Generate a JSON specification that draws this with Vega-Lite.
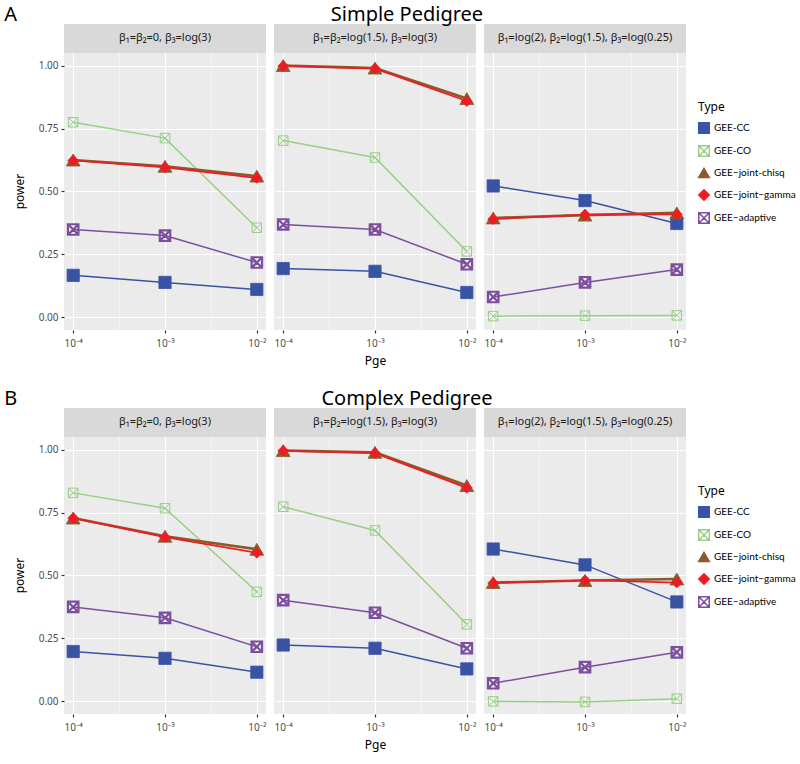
{
  "$schema": "https://vega.github.io/schema/vega-lite/v6.json",
  "padding": {"left": 4, "top": 5, "right": 5, "bottom": 3},
  "datasets": {
    "d": [
      {"r":"A","p":1,"Type":"GEE-CC","Pge":0.0001,"power":0.167},{"r":"A","p":1,"Type":"GEE-CC","Pge":0.001,"power":0.139},{"r":"A","p":1,"Type":"GEE-CC","Pge":0.01,"power":0.111},
      {"r":"A","p":1,"Type":"GEE-CO","Pge":0.0001,"power":0.775},{"r":"A","p":1,"Type":"GEE-CO","Pge":0.001,"power":0.712},{"r":"A","p":1,"Type":"GEE-CO","Pge":0.01,"power":0.356},
      {"r":"A","p":1,"Type":"GEE−joint-chisq","Pge":0.0001,"power":0.625},{"r":"A","p":1,"Type":"GEE−joint-chisq","Pge":0.001,"power":0.600},{"r":"A","p":1,"Type":"GEE−joint-chisq","Pge":0.01,"power":0.561},
      {"r":"A","p":1,"Type":"GEE−joint−gamma","Pge":0.0001,"power":0.623},{"r":"A","p":1,"Type":"GEE−joint−gamma","Pge":0.001,"power":0.596},{"r":"A","p":1,"Type":"GEE−joint−gamma","Pge":0.01,"power":0.554},
      {"r":"A","p":1,"Type":"GEE−adaptive","Pge":0.0001,"power":0.349},{"r":"A","p":1,"Type":"GEE−adaptive","Pge":0.001,"power":0.325},{"r":"A","p":1,"Type":"GEE−adaptive","Pge":0.01,"power":0.218},
      {"r":"A","p":2,"Type":"GEE-CC","Pge":0.0001,"power":0.194},{"r":"A","p":2,"Type":"GEE-CC","Pge":0.001,"power":0.183},{"r":"A","p":2,"Type":"GEE-CC","Pge":0.01,"power":0.099},
      {"r":"A","p":2,"Type":"GEE-CO","Pge":0.0001,"power":0.702},{"r":"A","p":2,"Type":"GEE-CO","Pge":0.001,"power":0.635},{"r":"A","p":2,"Type":"GEE-CO","Pge":0.01,"power":0.262},
      {"r":"A","p":2,"Type":"GEE−joint-chisq","Pge":0.0001,"power":1.0},{"r":"A","p":2,"Type":"GEE−joint-chisq","Pge":0.001,"power":0.99},{"r":"A","p":2,"Type":"GEE−joint-chisq","Pge":0.01,"power":0.869},
      {"r":"A","p":2,"Type":"GEE−joint−gamma","Pge":0.0001,"power":0.998},{"r":"A","p":2,"Type":"GEE−joint−gamma","Pge":0.001,"power":0.988},{"r":"A","p":2,"Type":"GEE−joint−gamma","Pge":0.01,"power":0.859},
      {"r":"A","p":2,"Type":"GEE−adaptive","Pge":0.0001,"power":0.369},{"r":"A","p":2,"Type":"GEE−adaptive","Pge":0.001,"power":0.349},{"r":"A","p":2,"Type":"GEE−adaptive","Pge":0.01,"power":0.211},
      {"r":"A","p":3,"Type":"GEE-CC","Pge":0.0001,"power":0.522},{"r":"A","p":3,"Type":"GEE-CC","Pge":0.001,"power":0.464},{"r":"A","p":3,"Type":"GEE-CC","Pge":0.01,"power":0.373},
      {"r":"A","p":3,"Type":"GEE-CO","Pge":0.0001,"power":0.005},{"r":"A","p":3,"Type":"GEE-CO","Pge":0.001,"power":0.007},{"r":"A","p":3,"Type":"GEE-CO","Pge":0.01,"power":0.008},
      {"r":"A","p":3,"Type":"GEE−joint-chisq","Pge":0.0001,"power":0.395},{"r":"A","p":3,"Type":"GEE−joint-chisq","Pge":0.001,"power":0.406},{"r":"A","p":3,"Type":"GEE−joint-chisq","Pge":0.01,"power":0.415},
      {"r":"A","p":3,"Type":"GEE−joint−gamma","Pge":0.0001,"power":0.390},{"r":"A","p":3,"Type":"GEE−joint−gamma","Pge":0.001,"power":0.408},{"r":"A","p":3,"Type":"GEE−joint−gamma","Pge":0.01,"power":0.409},
      {"r":"A","p":3,"Type":"GEE−adaptive","Pge":0.0001,"power":0.081},{"r":"A","p":3,"Type":"GEE−adaptive","Pge":0.001,"power":0.139},{"r":"A","p":3,"Type":"GEE−adaptive","Pge":0.01,"power":0.190},
      {"r":"B","p":1,"Type":"GEE-CC","Pge":0.0001,"power":0.198},{"r":"B","p":1,"Type":"GEE-CC","Pge":0.001,"power":0.171},{"r":"B","p":1,"Type":"GEE-CC","Pge":0.01,"power":0.116},
      {"r":"B","p":1,"Type":"GEE-CO","Pge":0.0001,"power":0.828},{"r":"B","p":1,"Type":"GEE-CO","Pge":0.001,"power":0.767},{"r":"B","p":1,"Type":"GEE-CO","Pge":0.01,"power":0.435},
      {"r":"B","p":1,"Type":"GEE−joint-chisq","Pge":0.0001,"power":0.728},{"r":"B","p":1,"Type":"GEE−joint-chisq","Pge":0.001,"power":0.656},{"r":"B","p":1,"Type":"GEE−joint-chisq","Pge":0.01,"power":0.604},
      {"r":"B","p":1,"Type":"GEE−joint−gamma","Pge":0.0001,"power":0.728},{"r":"B","p":1,"Type":"GEE−joint−gamma","Pge":0.001,"power":0.652},{"r":"B","p":1,"Type":"GEE−joint−gamma","Pge":0.01,"power":0.590},
      {"r":"B","p":1,"Type":"GEE−adaptive","Pge":0.0001,"power":0.375},{"r":"B","p":1,"Type":"GEE−adaptive","Pge":0.001,"power":0.332},{"r":"B","p":1,"Type":"GEE−adaptive","Pge":0.01,"power":0.217},
      {"r":"B","p":2,"Type":"GEE-CC","Pge":0.0001,"power":0.224},{"r":"B","p":2,"Type":"GEE-CC","Pge":0.001,"power":0.211},{"r":"B","p":2,"Type":"GEE-CC","Pge":0.01,"power":0.129},
      {"r":"B","p":2,"Type":"GEE-CO","Pge":0.0001,"power":0.773},{"r":"B","p":2,"Type":"GEE-CO","Pge":0.001,"power":0.679},{"r":"B","p":2,"Type":"GEE-CO","Pge":0.01,"power":0.306},
      {"r":"B","p":2,"Type":"GEE−joint-chisq","Pge":0.0001,"power":0.996},{"r":"B","p":2,"Type":"GEE−joint-chisq","Pge":0.001,"power":0.989},{"r":"B","p":2,"Type":"GEE−joint-chisq","Pge":0.01,"power":0.857},
      {"r":"B","p":2,"Type":"GEE−joint−gamma","Pge":0.0001,"power":0.995},{"r":"B","p":2,"Type":"GEE−joint−gamma","Pge":0.001,"power":0.986},{"r":"B","p":2,"Type":"GEE−joint−gamma","Pge":0.01,"power":0.848},
      {"r":"B","p":2,"Type":"GEE−adaptive","Pge":0.0001,"power":0.402},{"r":"B","p":2,"Type":"GEE−adaptive","Pge":0.001,"power":0.352},{"r":"B","p":2,"Type":"GEE−adaptive","Pge":0.01,"power":0.211},
      {"r":"B","p":3,"Type":"GEE-CC","Pge":0.0001,"power":0.605},{"r":"B","p":3,"Type":"GEE-CC","Pge":0.001,"power":0.542},{"r":"B","p":3,"Type":"GEE-CC","Pge":0.01,"power":0.395},
      {"r":"B","p":3,"Type":"GEE-CO","Pge":0.0001,"power":0.0},{"r":"B","p":3,"Type":"GEE-CO","Pge":0.001,"power":-0.002},{"r":"B","p":3,"Type":"GEE-CO","Pge":0.01,"power":0.011},
      {"r":"B","p":3,"Type":"GEE−joint-chisq","Pge":0.0001,"power":0.472},{"r":"B","p":3,"Type":"GEE−joint-chisq","Pge":0.001,"power":0.480},{"r":"B","p":3,"Type":"GEE−joint-chisq","Pge":0.01,"power":0.486},
      {"r":"B","p":3,"Type":"GEE−joint−gamma","Pge":0.0001,"power":0.470},{"r":"B","p":3,"Type":"GEE−joint−gamma","Pge":0.001,"power":0.481},{"r":"B","p":3,"Type":"GEE−joint−gamma","Pge":0.01,"power":0.472},
      {"r":"B","p":3,"Type":"GEE−adaptive","Pge":0.0001,"power":0.072},{"r":"B","p":3,"Type":"GEE−adaptive","Pge":0.001,"power":0.136},{"r":"B","p":3,"Type":"GEE−adaptive","Pge":0.01,"power":0.195}
    ]
  },
  "vconcat": [
    {
      "hconcat": [
        {
          "width": 202, "height": 306, "view": {"fill": "#ebebeb"},
          "layer": [
            {"data": {"name": "d"}, "transform": [{"filter": "datum.r == 'A' && datum.p == 1"}],
             "encoding": {
               "x": {"field": "Pge", "type": "quantitative", "scale": {"type": "log", "domain": [0.0000794, 0.01259], "nice": false}, "axis": {"values": [0.0001, 0.000316228, 0.001, 0.00316228, 0.01], "title": null, "labelExpr": "datum.value == 0.0001 ? '10⁻⁴' : datum.value == 0.001 ? '10⁻³' : datum.value == 0.01 ? '10⁻²' : ''", "gridWidth": {"condition": {"test": "datum.value == 0.0001 || datum.value == 0.001 || datum.value == 0.01", "value": 1.1}, "value": 0.5}, "tickOpacity": {"condition": {"test": "datum.value == 0.0001 || datum.value == 0.001 || datum.value == 0.01", "value": 1}, "value": 0}}},
               "y": {"field": "power", "type": "quantitative", "scale": {"domain": [-0.05, 1.165], "nice": false, "zero": false}, "axis": {"values": [0, 0.125, 0.25, 0.375, 0.5, 0.625, 0.75, 0.875, 1], "title": "power", "titleY": 167, "titlePadding": 12, "labelExpr": "datum.value * 4 == round(datum.value * 4) ? format(datum.value, '.2f') : ''", "gridWidth": {"condition": {"test": "datum.value * 4 == round(datum.value * 4)", "value": 1.1}, "value": 0.5}, "tickOpacity": {"condition": {"test": "datum.value * 4 == round(datum.value * 4)", "value": 1}, "value": 0}}}
             },
             "layer": [
              {"transform": [{"filter": "datum.Type == 'GEE-CC' || datum.Type == 'GEE-CO' || datum.Type == 'GEE−adaptive'"}], "mark": {"type": "line", "strokeWidth": 1.5}, "encoding": {"stroke": {"field": "Type", "type": "nominal", "scale": {"domain": ["GEE-CC", "GEE-CO", "GEE−joint-chisq", "GEE−joint−gamma", "GEE−adaptive"], "range": ["#3953a4", "#98cf86", "#8b5a2b", "#ed1c24", "#7b4f9e"]}, "legend": {"title": "Type", "orient": "none", "legendX": 634, "legendY": 78}}}},
              {"transform": [{"filter": "datum.Type == 'GEE−joint-chisq'"}], "mark": {"type": "line", "strokeWidth": 2.6}, "encoding": {"stroke": {"field": "Type", "type": "nominal"}}},
              {"transform": [{"filter": "datum.Type == 'GEE−joint−gamma'"}], "mark": {"type": "line", "strokeWidth": 1.7}, "encoding": {"stroke": {"field": "Type", "type": "nominal"}}},
              {"transform": [{"filter": "datum.Type == 'GEE-CC'"}], "mark": {"type": "point", "opacity": 1, "strokeWidth": 0.8, "size": 150}, "encoding": {"stroke": {"field": "Type", "type": "nominal"}, "fill": {"field": "Type", "type": "nominal", "scale": {"domain": ["GEE-CC", "GEE-CO", "GEE−joint-chisq", "GEE−joint−gamma", "GEE−adaptive"], "range": ["#3953a4", "transparent", "#8b5a2b", "#ed1c24", "transparent"]}, "legend": {"title": "Type", "orient": "none", "legendX": 634, "legendY": 78}}, "shape": {"field": "Type", "type": "nominal", "scale": {"domain": ["GEE-CC", "GEE-CO", "GEE−joint-chisq", "GEE−joint−gamma", "GEE−adaptive"], "range": ["square", "M-1,-1L1,-1L1,1L-1,1Z M-1,-1L1,1 M1,-1L-1,1", "triangle-up", "diamond", "M-1,-1L1,-1L1,1L-1,1Z M-1,-1L1,1 M1,-1L-1,1"]}, "legend": {"title": "Type", "orient": "none", "legendX": 634, "legendY": 78}}}},
              {"transform": [{"filter": "datum.Type == 'GEE−joint-chisq'"}], "mark": {"type": "point", "opacity": 1, "strokeWidth": 0.8, "size": 190}, "encoding": {"stroke": {"field": "Type", "type": "nominal"}, "fill": {"field": "Type", "type": "nominal"}, "shape": {"field": "Type", "type": "nominal"}}},
              {"transform": [{"filter": "datum.Type == 'GEE−joint−gamma'"}], "mark": {"type": "point", "opacity": 1, "strokeWidth": 0.8, "size": 115}, "encoding": {"stroke": {"field": "Type", "type": "nominal"}, "fill": {"field": "Type", "type": "nominal"}, "shape": {"field": "Type", "type": "nominal"}}},
              {"transform": [{"filter": "datum.Type == 'GEE-CO'"}], "mark": {"type": "point", "opacity": 1, "strokeWidth": 1, "size": 90}, "encoding": {"stroke": {"field": "Type", "type": "nominal"}, "fill": {"field": "Type", "type": "nominal"}, "shape": {"field": "Type", "type": "nominal"}}},
              {"transform": [{"filter": "datum.Type == 'GEE−adaptive'"}], "mark": {"type": "point", "opacity": 1, "strokeWidth": 2.2, "size": 110}, "encoding": {"stroke": {"field": "Type", "type": "nominal"}, "fill": {"field": "Type", "type": "nominal"}, "shape": {"field": "Type", "type": "nominal"}}}
            ]},
            {"data": {"values": [{"s": "β₁=β₂=0, β₃=log(3)"}]}, "layer": [
              {"mark": {"type": "rect", "fill": "#d9d9d9"}, "encoding": {"x": {"datum": 0.0000794, "type": "quantitative"}, "x2": {"datum": 0.01259}, "y": {"datum": 1.05, "type": "quantitative"}, "y2": {"datum": 1.165}}},
              {"mark": {"type": "text", "fontSize": 11, "color": "#1a1a1a", "baseline": "middle"}, "encoding": {"x": {"datum": 0.001, "type": "quantitative"}, "y": {"datum": 1.1075, "type": "quantitative"}, "text": {"field": "s"}}}
            ]},
            {"data": {"values": [{"t": "A"}]}, "mark": {"type": "text", "align": "left", "baseline": "middle", "fontSize": 20, "color": "#000000"}, "encoding": {"x": {"datum": 0.0000177, "type": "quantitative"}, "y": {"datum": 1.20, "type": "quantitative"}, "text": {"field": "t"}}}
          ]
        },
        {
          "width": 202, "height": 306, "view": {"fill": "#ebebeb"},
          "layer": [
            {"data": {"name": "d"}, "transform": [{"filter": "datum.r == 'A' && datum.p == 2"}],
             "encoding": {
               "x": {"field": "Pge", "type": "quantitative", "scale": {"type": "log", "domain": [0.0000794, 0.01259], "nice": false}, "axis": {"values": [0.0001, 0.000316228, 0.001, 0.00316228, 0.01], "title": "Pge", "labelExpr": "datum.value == 0.0001 ? '10⁻⁴' : datum.value == 0.001 ? '10⁻³' : datum.value == 0.01 ? '10⁻²' : ''", "gridWidth": {"condition": {"test": "datum.value == 0.0001 || datum.value == 0.001 || datum.value == 0.01", "value": 1.1}, "value": 0.5}, "tickOpacity": {"condition": {"test": "datum.value == 0.0001 || datum.value == 0.001 || datum.value == 0.01", "value": 1}, "value": 0}}},
               "y": {"field": "power", "type": "quantitative", "scale": {"domain": [-0.05, 1.165], "nice": false, "zero": false}, "axis": {"values": [0, 0.125, 0.25, 0.375, 0.5, 0.625, 0.75, 0.875, 1], "title": null, "labels": false, "ticks": false, "gridWidth": {"condition": {"test": "datum.value * 4 == round(datum.value * 4)", "value": 1.1}, "value": 0.5}}}
             },
             "layer": [
              {"transform": [{"filter": "datum.Type == 'GEE-CC' || datum.Type == 'GEE-CO' || datum.Type == 'GEE−adaptive'"}], "mark": {"type": "line", "strokeWidth": 1.5}, "encoding": {"stroke": {"field": "Type", "type": "nominal"}}},
              {"transform": [{"filter": "datum.Type == 'GEE−joint-chisq'"}], "mark": {"type": "line", "strokeWidth": 2.6}, "encoding": {"stroke": {"field": "Type", "type": "nominal"}}},
              {"transform": [{"filter": "datum.Type == 'GEE−joint−gamma'"}], "mark": {"type": "line", "strokeWidth": 1.7}, "encoding": {"stroke": {"field": "Type", "type": "nominal"}}},
              {"transform": [{"filter": "datum.Type == 'GEE-CC'"}], "mark": {"type": "point", "opacity": 1, "strokeWidth": 0.8, "size": 150}, "encoding": {"stroke": {"field": "Type", "type": "nominal"}, "fill": {"field": "Type", "type": "nominal"}, "shape": {"field": "Type", "type": "nominal"}}},
              {"transform": [{"filter": "datum.Type == 'GEE−joint-chisq'"}], "mark": {"type": "point", "opacity": 1, "strokeWidth": 0.8, "size": 190}, "encoding": {"stroke": {"field": "Type", "type": "nominal"}, "fill": {"field": "Type", "type": "nominal"}, "shape": {"field": "Type", "type": "nominal"}}},
              {"transform": [{"filter": "datum.Type == 'GEE−joint−gamma'"}], "mark": {"type": "point", "opacity": 1, "strokeWidth": 0.8, "size": 115}, "encoding": {"stroke": {"field": "Type", "type": "nominal"}, "fill": {"field": "Type", "type": "nominal"}, "shape": {"field": "Type", "type": "nominal"}}},
              {"transform": [{"filter": "datum.Type == 'GEE-CO'"}], "mark": {"type": "point", "opacity": 1, "strokeWidth": 1, "size": 90}, "encoding": {"stroke": {"field": "Type", "type": "nominal"}, "fill": {"field": "Type", "type": "nominal"}, "shape": {"field": "Type", "type": "nominal"}}},
              {"transform": [{"filter": "datum.Type == 'GEE−adaptive'"}], "mark": {"type": "point", "opacity": 1, "strokeWidth": 2.2, "size": 110}, "encoding": {"stroke": {"field": "Type", "type": "nominal"}, "fill": {"field": "Type", "type": "nominal"}, "shape": {"field": "Type", "type": "nominal"}}}
            ]},
            {"data": {"values": [{"s": "β₁=β₂=log(1.5), β₃=log(3)"}]}, "layer": [
              {"mark": {"type": "rect", "fill": "#d9d9d9"}, "encoding": {"x": {"datum": 0.0000794, "type": "quantitative"}, "x2": {"datum": 0.01259}, "y": {"datum": 1.05, "type": "quantitative"}, "y2": {"datum": 1.165}}},
              {"mark": {"type": "text", "fontSize": 11, "color": "#1a1a1a", "baseline": "middle"}, "encoding": {"x": {"datum": 0.001, "type": "quantitative"}, "y": {"datum": 1.1075, "type": "quantitative"}, "text": {"field": "s"}}}
            ]},
            {"data": {"values": [{"t": "Simple Pedigree"}]}, "mark": {"type": "text", "align": "center", "baseline": "middle", "fontSize": 20, "color": "#000000"}, "encoding": {"x": {"datum": 0.00223, "type": "quantitative"}, "y": {"datum": 1.20, "type": "quantitative"}, "text": {"field": "t"}}}
          ]
        },
        {
          "width": 202, "height": 306, "view": {"fill": "#ebebeb"},
          "layer": [
            {"data": {"name": "d"}, "transform": [{"filter": "datum.r == 'A' && datum.p == 3"}],
             "encoding": {
               "x": {"field": "Pge", "type": "quantitative", "scale": {"type": "log", "domain": [0.0000794, 0.01259], "nice": false}, "axis": {"values": [0.0001, 0.000316228, 0.001, 0.00316228, 0.01], "title": null, "labelExpr": "datum.value == 0.0001 ? '10⁻⁴' : datum.value == 0.001 ? '10⁻³' : datum.value == 0.01 ? '10⁻²' : ''", "gridWidth": {"condition": {"test": "datum.value == 0.0001 || datum.value == 0.001 || datum.value == 0.01", "value": 1.1}, "value": 0.5}, "tickOpacity": {"condition": {"test": "datum.value == 0.0001 || datum.value == 0.001 || datum.value == 0.01", "value": 1}, "value": 0}}},
               "y": {"field": "power", "type": "quantitative", "scale": {"domain": [-0.05, 1.165], "nice": false, "zero": false}, "axis": {"values": [0, 0.125, 0.25, 0.375, 0.5, 0.625, 0.75, 0.875, 1], "title": null, "labels": false, "ticks": false, "gridWidth": {"condition": {"test": "datum.value * 4 == round(datum.value * 4)", "value": 1.1}, "value": 0.5}}}
             },
             "layer": [
              {"transform": [{"filter": "datum.Type == 'GEE-CC' || datum.Type == 'GEE-CO' || datum.Type == 'GEE−adaptive'"}], "mark": {"type": "line", "strokeWidth": 1.5}, "encoding": {"stroke": {"field": "Type", "type": "nominal"}}},
              {"transform": [{"filter": "datum.Type == 'GEE−joint-chisq'"}], "mark": {"type": "line", "strokeWidth": 2.6}, "encoding": {"stroke": {"field": "Type", "type": "nominal"}}},
              {"transform": [{"filter": "datum.Type == 'GEE−joint−gamma'"}], "mark": {"type": "line", "strokeWidth": 1.7}, "encoding": {"stroke": {"field": "Type", "type": "nominal"}}},
              {"transform": [{"filter": "datum.Type == 'GEE-CC'"}], "mark": {"type": "point", "opacity": 1, "strokeWidth": 0.8, "size": 150}, "encoding": {"stroke": {"field": "Type", "type": "nominal"}, "fill": {"field": "Type", "type": "nominal"}, "shape": {"field": "Type", "type": "nominal"}}},
              {"transform": [{"filter": "datum.Type == 'GEE−joint-chisq'"}], "mark": {"type": "point", "opacity": 1, "strokeWidth": 0.8, "size": 190}, "encoding": {"stroke": {"field": "Type", "type": "nominal"}, "fill": {"field": "Type", "type": "nominal"}, "shape": {"field": "Type", "type": "nominal"}}},
              {"transform": [{"filter": "datum.Type == 'GEE−joint−gamma'"}], "mark": {"type": "point", "opacity": 1, "strokeWidth": 0.8, "size": 115}, "encoding": {"stroke": {"field": "Type", "type": "nominal"}, "fill": {"field": "Type", "type": "nominal"}, "shape": {"field": "Type", "type": "nominal"}}},
              {"transform": [{"filter": "datum.Type == 'GEE-CO'"}], "mark": {"type": "point", "opacity": 1, "strokeWidth": 1, "size": 90}, "encoding": {"stroke": {"field": "Type", "type": "nominal"}, "fill": {"field": "Type", "type": "nominal"}, "shape": {"field": "Type", "type": "nominal"}}},
              {"transform": [{"filter": "datum.Type == 'GEE−adaptive'"}], "mark": {"type": "point", "opacity": 1, "strokeWidth": 2.2, "size": 110}, "encoding": {"stroke": {"field": "Type", "type": "nominal"}, "fill": {"field": "Type", "type": "nominal"}, "shape": {"field": "Type", "type": "nominal"}}}
            ]},
            {"data": {"values": [{"s": "β₁=log(2), β₂=log(1.5), β₃=log(0.25)"}]}, "layer": [
              {"mark": {"type": "rect", "fill": "#d9d9d9"}, "encoding": {"x": {"datum": 0.0000794, "type": "quantitative"}, "x2": {"datum": 0.01259}, "y": {"datum": 1.05, "type": "quantitative"}, "y2": {"datum": 1.165}}},
              {"mark": {"type": "text", "fontSize": 11, "color": "#1a1a1a", "baseline": "middle"}, "encoding": {"x": {"datum": 0.001, "type": "quantitative"}, "y": {"datum": 1.1075, "type": "quantitative"}, "text": {"field": "s"}}}
            ]}
          ]
        }
      ],
      "spacing": 8, "bounds": "flush"
    },
    {
      "hconcat": [
        {
          "width": 202, "height": 306, "view": {"fill": "#ebebeb"},
          "layer": [
            {"data": {"name": "d"}, "transform": [{"filter": "datum.r == 'B' && datum.p == 1"}],
             "encoding": {
               "x": {"field": "Pge", "type": "quantitative", "scale": {"type": "log", "domain": [0.0000794, 0.01259], "nice": false}, "axis": {"values": [0.0001, 0.000316228, 0.001, 0.00316228, 0.01], "title": null, "labelExpr": "datum.value == 0.0001 ? '10⁻⁴' : datum.value == 0.001 ? '10⁻³' : datum.value == 0.01 ? '10⁻²' : ''", "gridWidth": {"condition": {"test": "datum.value == 0.0001 || datum.value == 0.001 || datum.value == 0.01", "value": 1.1}, "value": 0.5}, "tickOpacity": {"condition": {"test": "datum.value == 0.0001 || datum.value == 0.001 || datum.value == 0.01", "value": 1}, "value": 0}}},
               "y": {"field": "power", "type": "quantitative", "scale": {"domain": [-0.05, 1.165], "nice": false, "zero": false}, "axis": {"values": [0, 0.125, 0.25, 0.375, 0.5, 0.625, 0.75, 0.875, 1], "title": "power", "titleY": 167, "titlePadding": 12, "labelExpr": "datum.value * 4 == round(datum.value * 4) ? format(datum.value, '.2f') : ''", "gridWidth": {"condition": {"test": "datum.value * 4 == round(datum.value * 4)", "value": 1.1}, "value": 0.5}, "tickOpacity": {"condition": {"test": "datum.value * 4 == round(datum.value * 4)", "value": 1}, "value": 0}}}
             },
             "layer": [
              {"transform": [{"filter": "datum.Type == 'GEE-CC' || datum.Type == 'GEE-CO' || datum.Type == 'GEE−adaptive'"}], "mark": {"type": "line", "strokeWidth": 1.5}, "encoding": {"stroke": {"field": "Type", "type": "nominal", "scale": {"domain": ["GEE-CC", "GEE-CO", "GEE−joint-chisq", "GEE−joint−gamma", "GEE−adaptive"], "range": ["#3953a4", "#98cf86", "#8b5a2b", "#ed1c24", "#7b4f9e"]}, "legend": {"title": "Type", "orient": "none", "legendX": 634, "legendY": 78}}}},
              {"transform": [{"filter": "datum.Type == 'GEE−joint-chisq'"}], "mark": {"type": "line", "strokeWidth": 2.6}, "encoding": {"stroke": {"field": "Type", "type": "nominal"}}},
              {"transform": [{"filter": "datum.Type == 'GEE−joint−gamma'"}], "mark": {"type": "line", "strokeWidth": 1.7}, "encoding": {"stroke": {"field": "Type", "type": "nominal"}}},
              {"transform": [{"filter": "datum.Type == 'GEE-CC'"}], "mark": {"type": "point", "opacity": 1, "strokeWidth": 0.8, "size": 150}, "encoding": {"stroke": {"field": "Type", "type": "nominal"}, "fill": {"field": "Type", "type": "nominal", "scale": {"domain": ["GEE-CC", "GEE-CO", "GEE−joint-chisq", "GEE−joint−gamma", "GEE−adaptive"], "range": ["#3953a4", "transparent", "#8b5a2b", "#ed1c24", "transparent"]}, "legend": {"title": "Type", "orient": "none", "legendX": 634, "legendY": 78}}, "shape": {"field": "Type", "type": "nominal", "scale": {"domain": ["GEE-CC", "GEE-CO", "GEE−joint-chisq", "GEE−joint−gamma", "GEE−adaptive"], "range": ["square", "M-1,-1L1,-1L1,1L-1,1Z M-1,-1L1,1 M1,-1L-1,1", "triangle-up", "diamond", "M-1,-1L1,-1L1,1L-1,1Z M-1,-1L1,1 M1,-1L-1,1"]}, "legend": {"title": "Type", "orient": "none", "legendX": 634, "legendY": 78}}}},
              {"transform": [{"filter": "datum.Type == 'GEE−joint-chisq'"}], "mark": {"type": "point", "opacity": 1, "strokeWidth": 0.8, "size": 190}, "encoding": {"stroke": {"field": "Type", "type": "nominal"}, "fill": {"field": "Type", "type": "nominal"}, "shape": {"field": "Type", "type": "nominal"}}},
              {"transform": [{"filter": "datum.Type == 'GEE−joint−gamma'"}], "mark": {"type": "point", "opacity": 1, "strokeWidth": 0.8, "size": 115}, "encoding": {"stroke": {"field": "Type", "type": "nominal"}, "fill": {"field": "Type", "type": "nominal"}, "shape": {"field": "Type", "type": "nominal"}}},
              {"transform": [{"filter": "datum.Type == 'GEE-CO'"}], "mark": {"type": "point", "opacity": 1, "strokeWidth": 1, "size": 90}, "encoding": {"stroke": {"field": "Type", "type": "nominal"}, "fill": {"field": "Type", "type": "nominal"}, "shape": {"field": "Type", "type": "nominal"}}},
              {"transform": [{"filter": "datum.Type == 'GEE−adaptive'"}], "mark": {"type": "point", "opacity": 1, "strokeWidth": 2.2, "size": 110}, "encoding": {"stroke": {"field": "Type", "type": "nominal"}, "fill": {"field": "Type", "type": "nominal"}, "shape": {"field": "Type", "type": "nominal"}}}
            ]},
            {"data": {"values": [{"s": "β₁=β₂=0, β₃=log(3)"}]}, "layer": [
              {"mark": {"type": "rect", "fill": "#d9d9d9"}, "encoding": {"x": {"datum": 0.0000794, "type": "quantitative"}, "x2": {"datum": 0.01259}, "y": {"datum": 1.05, "type": "quantitative"}, "y2": {"datum": 1.165}}},
              {"mark": {"type": "text", "fontSize": 11, "color": "#1a1a1a", "baseline": "middle"}, "encoding": {"x": {"datum": 0.001, "type": "quantitative"}, "y": {"datum": 1.1075, "type": "quantitative"}, "text": {"field": "s"}}}
            ]},
            {"data": {"values": [{"t": "B"}]}, "mark": {"type": "text", "align": "left", "baseline": "middle", "fontSize": 20, "color": "#000000"}, "encoding": {"x": {"datum": 0.0000177, "type": "quantitative"}, "y": {"datum": 1.20, "type": "quantitative"}, "text": {"field": "t"}}}
          ]
        },
        {
          "width": 202, "height": 306, "view": {"fill": "#ebebeb"},
          "layer": [
            {"data": {"name": "d"}, "transform": [{"filter": "datum.r == 'B' && datum.p == 2"}],
             "encoding": {
               "x": {"field": "Pge", "type": "quantitative", "scale": {"type": "log", "domain": [0.0000794, 0.01259], "nice": false}, "axis": {"values": [0.0001, 0.000316228, 0.001, 0.00316228, 0.01], "title": "Pge", "labelExpr": "datum.value == 0.0001 ? '10⁻⁴' : datum.value == 0.001 ? '10⁻³' : datum.value == 0.01 ? '10⁻²' : ''", "gridWidth": {"condition": {"test": "datum.value == 0.0001 || datum.value == 0.001 || datum.value == 0.01", "value": 1.1}, "value": 0.5}, "tickOpacity": {"condition": {"test": "datum.value == 0.0001 || datum.value == 0.001 || datum.value == 0.01", "value": 1}, "value": 0}}},
               "y": {"field": "power", "type": "quantitative", "scale": {"domain": [-0.05, 1.165], "nice": false, "zero": false}, "axis": {"values": [0, 0.125, 0.25, 0.375, 0.5, 0.625, 0.75, 0.875, 1], "title": null, "labels": false, "ticks": false, "gridWidth": {"condition": {"test": "datum.value * 4 == round(datum.value * 4)", "value": 1.1}, "value": 0.5}}}
             },
             "layer": [
              {"transform": [{"filter": "datum.Type == 'GEE-CC' || datum.Type == 'GEE-CO' || datum.Type == 'GEE−adaptive'"}], "mark": {"type": "line", "strokeWidth": 1.5}, "encoding": {"stroke": {"field": "Type", "type": "nominal"}}},
              {"transform": [{"filter": "datum.Type == 'GEE−joint-chisq'"}], "mark": {"type": "line", "strokeWidth": 2.6}, "encoding": {"stroke": {"field": "Type", "type": "nominal"}}},
              {"transform": [{"filter": "datum.Type == 'GEE−joint−gamma'"}], "mark": {"type": "line", "strokeWidth": 1.7}, "encoding": {"stroke": {"field": "Type", "type": "nominal"}}},
              {"transform": [{"filter": "datum.Type == 'GEE-CC'"}], "mark": {"type": "point", "opacity": 1, "strokeWidth": 0.8, "size": 150}, "encoding": {"stroke": {"field": "Type", "type": "nominal"}, "fill": {"field": "Type", "type": "nominal"}, "shape": {"field": "Type", "type": "nominal"}}},
              {"transform": [{"filter": "datum.Type == 'GEE−joint-chisq'"}], "mark": {"type": "point", "opacity": 1, "strokeWidth": 0.8, "size": 190}, "encoding": {"stroke": {"field": "Type", "type": "nominal"}, "fill": {"field": "Type", "type": "nominal"}, "shape": {"field": "Type", "type": "nominal"}}},
              {"transform": [{"filter": "datum.Type == 'GEE−joint−gamma'"}], "mark": {"type": "point", "opacity": 1, "strokeWidth": 0.8, "size": 115}, "encoding": {"stroke": {"field": "Type", "type": "nominal"}, "fill": {"field": "Type", "type": "nominal"}, "shape": {"field": "Type", "type": "nominal"}}},
              {"transform": [{"filter": "datum.Type == 'GEE-CO'"}], "mark": {"type": "point", "opacity": 1, "strokeWidth": 1, "size": 90}, "encoding": {"stroke": {"field": "Type", "type": "nominal"}, "fill": {"field": "Type", "type": "nominal"}, "shape": {"field": "Type", "type": "nominal"}}},
              {"transform": [{"filter": "datum.Type == 'GEE−adaptive'"}], "mark": {"type": "point", "opacity": 1, "strokeWidth": 2.2, "size": 110}, "encoding": {"stroke": {"field": "Type", "type": "nominal"}, "fill": {"field": "Type", "type": "nominal"}, "shape": {"field": "Type", "type": "nominal"}}}
            ]},
            {"data": {"values": [{"s": "β₁=β₂=log(1.5), β₃=log(3)"}]}, "layer": [
              {"mark": {"type": "rect", "fill": "#d9d9d9"}, "encoding": {"x": {"datum": 0.0000794, "type": "quantitative"}, "x2": {"datum": 0.01259}, "y": {"datum": 1.05, "type": "quantitative"}, "y2": {"datum": 1.165}}},
              {"mark": {"type": "text", "fontSize": 11, "color": "#1a1a1a", "baseline": "middle"}, "encoding": {"x": {"datum": 0.001, "type": "quantitative"}, "y": {"datum": 1.1075, "type": "quantitative"}, "text": {"field": "s"}}}
            ]},
            {"data": {"values": [{"t": "Complex Pedigree"}]}, "mark": {"type": "text", "align": "center", "baseline": "middle", "fontSize": 20, "color": "#000000"}, "encoding": {"x": {"datum": 0.00223, "type": "quantitative"}, "y": {"datum": 1.20, "type": "quantitative"}, "text": {"field": "t"}}}
          ]
        },
        {
          "width": 202, "height": 306, "view": {"fill": "#ebebeb"},
          "layer": [
            {"data": {"name": "d"}, "transform": [{"filter": "datum.r == 'B' && datum.p == 3"}],
             "encoding": {
               "x": {"field": "Pge", "type": "quantitative", "scale": {"type": "log", "domain": [0.0000794, 0.01259], "nice": false}, "axis": {"values": [0.0001, 0.000316228, 0.001, 0.00316228, 0.01], "title": null, "labelExpr": "datum.value == 0.0001 ? '10⁻⁴' : datum.value == 0.001 ? '10⁻³' : datum.value == 0.01 ? '10⁻²' : ''", "gridWidth": {"condition": {"test": "datum.value == 0.0001 || datum.value == 0.001 || datum.value == 0.01", "value": 1.1}, "value": 0.5}, "tickOpacity": {"condition": {"test": "datum.value == 0.0001 || datum.value == 0.001 || datum.value == 0.01", "value": 1}, "value": 0}}},
               "y": {"field": "power", "type": "quantitative", "scale": {"domain": [-0.05, 1.165], "nice": false, "zero": false}, "axis": {"values": [0, 0.125, 0.25, 0.375, 0.5, 0.625, 0.75, 0.875, 1], "title": null, "labels": false, "ticks": false, "gridWidth": {"condition": {"test": "datum.value * 4 == round(datum.value * 4)", "value": 1.1}, "value": 0.5}}}
             },
             "layer": [
              {"transform": [{"filter": "datum.Type == 'GEE-CC' || datum.Type == 'GEE-CO' || datum.Type == 'GEE−adaptive'"}], "mark": {"type": "line", "strokeWidth": 1.5}, "encoding": {"stroke": {"field": "Type", "type": "nominal"}}},
              {"transform": [{"filter": "datum.Type == 'GEE−joint-chisq'"}], "mark": {"type": "line", "strokeWidth": 2.6}, "encoding": {"stroke": {"field": "Type", "type": "nominal"}}},
              {"transform": [{"filter": "datum.Type == 'GEE−joint−gamma'"}], "mark": {"type": "line", "strokeWidth": 1.7}, "encoding": {"stroke": {"field": "Type", "type": "nominal"}}},
              {"transform": [{"filter": "datum.Type == 'GEE-CC'"}], "mark": {"type": "point", "opacity": 1, "strokeWidth": 0.8, "size": 150}, "encoding": {"stroke": {"field": "Type", "type": "nominal"}, "fill": {"field": "Type", "type": "nominal"}, "shape": {"field": "Type", "type": "nominal"}}},
              {"transform": [{"filter": "datum.Type == 'GEE−joint-chisq'"}], "mark": {"type": "point", "opacity": 1, "strokeWidth": 0.8, "size": 190}, "encoding": {"stroke": {"field": "Type", "type": "nominal"}, "fill": {"field": "Type", "type": "nominal"}, "shape": {"field": "Type", "type": "nominal"}}},
              {"transform": [{"filter": "datum.Type == 'GEE−joint−gamma'"}], "mark": {"type": "point", "opacity": 1, "strokeWidth": 0.8, "size": 115}, "encoding": {"stroke": {"field": "Type", "type": "nominal"}, "fill": {"field": "Type", "type": "nominal"}, "shape": {"field": "Type", "type": "nominal"}}},
              {"transform": [{"filter": "datum.Type == 'GEE-CO'"}], "mark": {"type": "point", "opacity": 1, "strokeWidth": 1, "size": 90}, "encoding": {"stroke": {"field": "Type", "type": "nominal"}, "fill": {"field": "Type", "type": "nominal"}, "shape": {"field": "Type", "type": "nominal"}}},
              {"transform": [{"filter": "datum.Type == 'GEE−adaptive'"}], "mark": {"type": "point", "opacity": 1, "strokeWidth": 2.2, "size": 110}, "encoding": {"stroke": {"field": "Type", "type": "nominal"}, "fill": {"field": "Type", "type": "nominal"}, "shape": {"field": "Type", "type": "nominal"}}}
            ]},
            {"data": {"values": [{"s": "β₁=log(2), β₂=log(1.5), β₃=log(0.25)"}]}, "layer": [
              {"mark": {"type": "rect", "fill": "#d9d9d9"}, "encoding": {"x": {"datum": 0.0000794, "type": "quantitative"}, "x2": {"datum": 0.01259}, "y": {"datum": 1.05, "type": "quantitative"}, "y2": {"datum": 1.165}}},
              {"mark": {"type": "text", "fontSize": 11, "color": "#1a1a1a", "baseline": "middle"}, "encoding": {"x": {"datum": 0.001, "type": "quantitative"}, "y": {"datum": 1.1075, "type": "quantitative"}, "text": {"field": "s"}}}
            ]}
          ]
        }
      ],
      "spacing": 8, "bounds": "flush"
    }
  ],
  "spacing": 23,
  "resolve": {"scale": {"stroke": "independent", "fill": "independent", "shape": "independent"}},
  "config": {
    "font": "Noto Sans",
    "view": {"stroke": null},
    "axis": {"domain": false, "gridColor": "#ffffff", "tickColor": "#333333", "tickSize": 3, "tickWidth": 1.2, "labelColor": "#4d4d4d", "labelFontSize": 10, "titleFontSize": 12, "titleFontWeight": "normal", "titleColor": "#000000", "labelPadding": 3, "labelOverlap": false, "labelFlush": false, "titlePadding": 5},
    "axisX": {"labelPadding": 5, "titlePadding": 7},
    "legend": {"titleFontSize": 12, "titleFontWeight": "normal", "titleColor": "#000000", "labelFont": "Lato", "labelFontSize": 10, "labelColor": "#000000", "symbolSize": 110, "rowPadding": 5, "symbolStrokeWidth": 1.5, "titlePadding": 8}
  }
}
